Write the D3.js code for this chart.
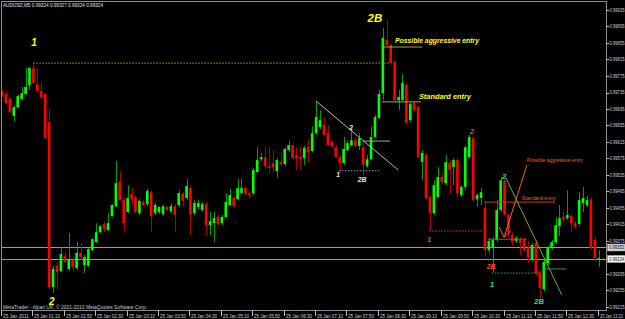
<!DOCTYPE html>
<html><head><meta charset="utf-8">
<script src="https://cdn.jsdelivr.net/npm/d3@7"></script>
<style>html,body{margin:0;padding:0;background:#000;overflow:hidden}svg{display:block}</style>
</head><body><svg id="c" width="625" height="319"></svg>
<script>
// ---------------- data ----------------
const symbolTitle = "AUDUSD,M5  0.99324 0.99327 0.99324 0.99324";
const copyright = "MetaTrader - Alpari UK, \u00a9 2001-2010 MetaQuotes Software Corp.";
const timeLabels = ["25 Jan 2011","25 Jan 01:10","25 Jan 01:50","25 Jan 02:30","25 Jan 03:10","25 Jan 03:50","25 Jan 04:30","25 Jan 05:10","25 Jan 05:50","25 Jan 06:30","25 Jan 07:10","25 Jan 07:50","25 Jan 08:30","25 Jan 09:10","25 Jan 09:50","25 Jan 10:30","25 Jan 11:10","25 Jan 11:50","25 Jan 12:30","25 Jan 13:10"];
const priceTicks = [0.99215,0.99255,0.99295,0.99335,0.99375,0.99415,0.99455,0.99495,0.99535,0.99575,0.99615,0.99655,0.99695,0.99735,0.99775,0.99815,0.99855,0.99895,0.99935];
const bidPrice = 0.99324, askPrice = 0.99352;

const opens = [0.99729,0.99724,0.99712,0.99671,0.99692,0.99712,0.99724,0.99746,0.99787,0.99748,
0.99731,0.99724,0.99656,0.99256,0.99307,0.99295,0.99331,0.99300,0.99322,0.99302,
0.99339,0.99309,0.99307,0.99346,0.99365,0.99389,0.99409,0.99394,0.99428,0.99452,
0.99511,0.99467,0.99438,0.99482,0.99474,0.99435,0.99462,0.99457,0.99486,0.99435,
0.99438,0.99433,0.99450,0.99440,0.99452,0.99455,0.99482,0.99472,0.99496,0.99435,
0.99450,0.99443,0.99457,0.99406,0.99411,0.99426,0.99411,0.99426,0.99455,0.99472,
0.99469,0.99484,0.99496,0.99484,0.99484,0.99535,0.99566,0.99571,0.99549,0.99557,
0.99537,0.99559,0.99554,0.99588,0.99600,0.99576,0.99571,0.99569,0.99595,0.99586,
0.99629,0.99644,0.99649,0.99629,0.99608,0.99595,0.99571,0.99557,0.99588,0.99600,
0.99612,0.99598,0.99595,0.99549,0.99566,0.99620,0.99666,0.99726,0.99855,0.99843,
0.99802,0.99709,0.99709,0.99746,0.99661,0.99702,0.99692,0.99559,0.99576,0.99474,
0.99435,0.99474,0.99523,0.99508,0.99557,0.99547,0.99564,0.99479,0.99499,0.99571,
0.99617,0.99469,0.99472,0.99448,0.99346,0.99351,0.99370,0.99443,0.99515,0.99431,
0.99382,0.99368,0.99372,0.99370,0.99351,0.99322,0.99363,0.99292,0.99251,0.99314,
0.99351,0.99365,0.99404,0.99426,0.99423,0.99428,0.99411,0.99409,0.99460,0.99455,
0.99469,0.99370,0.99322,0.99324];
const highs = [0.99734,0.99729,0.99717,0.99697,0.99722,0.99741,0.99787,0.99789,0.99799,0.99787,
0.99753,0.99726,0.99688,0.99307,0.99317,0.99353,0.99341,0.99387,0.99329,0.99365,
0.99363,0.99334,0.99351,0.99375,0.99411,0.99406,0.99414,0.99435,0.99457,0.99562,
0.99535,0.99472,0.99503,0.99496,0.99479,0.99469,0.99467,0.99494,0.99491,0.99460,
0.99452,0.99455,0.99452,0.99460,0.99457,0.99491,0.99486,0.99518,0.99501,0.99467,
0.99467,0.99462,0.99462,0.99438,0.99438,0.99431,0.99431,0.99484,0.99494,0.99477,
0.99518,0.99518,0.99501,0.99489,0.99545,0.99595,0.99581,0.99595,0.99595,0.99588,
0.99569,0.99581,0.99595,0.99612,0.99605,0.99595,0.99595,0.99598,0.99615,0.99646,
0.99707,0.99685,0.99668,0.99649,0.99612,0.99600,0.99576,0.99620,0.99612,0.99642,
0.99617,0.99629,0.99612,0.99576,0.99644,0.99673,0.99734,0.99884,0.99906,0.99845,
0.99806,0.99734,0.99772,0.99751,0.99705,0.99705,0.99695,0.99588,0.99581,0.99479,
0.99515,0.99547,0.99535,0.99576,0.99564,0.99569,0.99569,0.99503,0.99600,0.99625,
0.99625,0.99484,0.99496,0.99462,0.99375,0.99377,0.99467,0.99523,0.99525,0.99435,
0.99389,0.99380,0.99377,0.99375,0.99368,0.99363,0.99370,0.99297,0.99326,0.99356,
0.99370,0.99426,0.99455,0.99438,0.99491,0.99433,0.99416,0.99486,0.99499,0.99477,
0.99474,0.99377,0.99346,0.99327];
const lows = [0.99717,0.99700,0.99678,0.99656,0.99690,0.99709,0.99722,0.99734,0.99748,0.99729,
0.99714,0.99615,0.99251,0.99242,0.99249,0.99292,0.99314,0.99295,0.99297,0.99297,
0.99322,0.99290,0.99305,0.99343,0.99363,0.99387,0.99389,0.99392,0.99426,0.99450,
0.99465,0.99389,0.99435,0.99455,0.99433,0.99431,0.99450,0.99452,0.99389,0.99431,
0.99433,0.99428,0.99438,0.99435,0.99389,0.99450,0.99452,0.99467,0.99382,0.99431,
0.99445,0.99438,0.99382,0.99382,0.99365,0.99406,0.99406,0.99423,0.99452,0.99448,
0.99467,0.99482,0.99477,0.99472,0.99479,0.99532,0.99562,0.99540,0.99532,0.99535,
0.99520,0.99549,0.99549,0.99583,0.99564,0.99540,0.99540,0.99552,0.99557,0.99583,
0.99625,0.99639,0.99622,0.99598,0.99593,0.99569,0.99537,0.99552,0.99586,0.99598,
0.99593,0.99588,0.99528,0.99545,0.99564,0.99617,0.99663,0.99709,0.99838,0.99794,
0.99705,0.99685,0.99707,0.99651,0.99656,0.99680,0.99569,0.99515,0.99467,0.99392,
0.99431,0.99472,0.99506,0.99503,0.99484,0.99503,0.99474,0.99474,0.99491,0.99569,
0.99462,0.99450,0.99455,0.99329,0.99339,0.99292,0.99365,0.99438,0.99426,0.99375,
0.99358,0.99363,0.99334,0.99341,0.99314,0.99317,0.99285,0.99229,0.99246,0.99309,
0.99346,0.99360,0.99380,0.99414,0.99419,0.99389,0.99397,0.99404,0.99438,0.99450,
0.99346,0.99317,0.99305,0.99324];
const closes = [0.99719,0.99702,0.99680,0.99692,0.99719,0.99726,0.99741,0.99787,0.99751,0.99731,
0.99717,0.99617,0.99256,0.99300,0.99292,0.99336,0.99317,0.99324,0.99305,0.99339,
0.99329,0.99329,0.99348,0.99372,0.99389,0.99404,0.99397,0.99411,0.99455,0.99508,
0.99467,0.99411,0.99472,0.99469,0.99438,0.99465,0.99455,0.99489,0.99428,0.99455,
0.99450,0.99452,0.99443,0.99452,0.99431,0.99484,0.99465,0.99501,0.99431,0.99460,
0.99460,0.99457,0.99406,0.99416,0.99423,0.99409,0.99426,0.99462,0.99479,0.99452,
0.99496,0.99496,0.99482,0.99479,0.99540,0.99564,0.99571,0.99549,0.99545,0.99547,
0.99564,0.99554,0.99591,0.99600,0.99569,0.99569,0.99566,0.99593,0.99583,0.99629,
0.99668,0.99661,0.99625,0.99600,0.99598,0.99571,0.99557,0.99591,0.99605,0.99612,
0.99598,0.99617,0.99552,0.99566,0.99620,0.99668,0.99724,0.99860,0.99843,0.99799,
0.99709,0.99717,0.99751,0.99654,0.99700,0.99685,0.99571,0.99581,0.99472,0.99435,
0.99503,0.99523,0.99511,0.99559,0.99540,0.99564,0.99484,0.99499,0.99595,0.99620,
0.99467,0.99479,0.99486,0.99346,0.99368,0.99370,0.99443,0.99515,0.99431,0.99389,
0.99365,0.99375,0.99363,0.99346,0.99326,0.99358,0.99290,0.99254,0.99317,0.99351,
0.99365,0.99406,0.99423,0.99421,0.99431,0.99411,0.99402,0.99467,0.99472,0.99467,
0.99351,0.99326,0.99326,0.99324];

// hand-drawn chart objects, anchored at (bar index, price)
const textMarks = [
  {t:"1",  i:8.15,  p:0.99850, c:"#ffff00", s:10},
  {t:"2",  i:12.7,  p:0.99220, c:"#ffff00", s:10},
  {t:"2B", i:95.0,  p:0.99908, c:"#ffff00", s:11.5},
  {t:"2",  i:88.9,  p:0.99642, c:"#e6e6e6", s:6.8},
  {t:"1",  i:85.6,  p:0.99528, c:"#e6e6e6", s:6.8},
  {t:"2B", i:91.7,  p:0.99518, c:"#e6e6e6", s:6.8},
  {t:"2",  i:119.7, p:0.99632, c:"#ff4a1a", s:7},
  {t:"1",  i:108.8, p:0.99372, c:"#ff4a1a", s:7},
  {t:"2B", i:124.6, p:0.99307, c:"#ff4a1a", s:7},
  {t:"2",  i:127.9, p:0.99525, c:"#1fe08f", s:7.5},
  {t:"1",  i:124.8, p:0.99263, c:"#1fe08f", s:7.5},
  {t:"2B", i:136.8, p:0.99220, c:"#1fe08f", s:7.5}
];
const noteMarks = [
  {t:"Possible aggressive entry", i:100.1, p:0.99855, c:"#ffff00", bold:true, s:6.6, w:84},
  {t:"Standard entry",            i:106.2, p:0.99717, c:"#ffff00", bold:true, s:6.6, w:52},
  {t:"Possible aggressive entry", i:133.7, p:0.99564, c:"#ff5a1e", bold:false, s:5.4, w:56},
  {t:"Standard entry",            i:132.4, p:0.99472, c:"#ff5a1e", bold:false, s:5.4, w:34}
];
const lineMarks = [
  {i1:8,     p1:0.99799, i2:98.6,  p2:0.99799, c:"#b4a014", d:"1.5,1.5"},
  {i1:97.05, p1:0.99838, i2:106.98,p2:0.99838, c:"#a8a830"},
  {i1:96.8,  p1:0.99705, i2:106.7, p2:0.99705, c:"#a8a830"},
  {i1:80,    p1:0.99707, i2:100.9, p2:0.99540, c:"#b8b8b8"},
  {i1:91.95, p1:0.99610, i2:98.8,  p2:0.99610, c:"#a0a0a0"},
  {i1:85.8,  p1:0.99538, i2:96,    p2:0.99538, c:"#a0a0a0", d:"1.5,1.5"},
  {i1:133.7, p1:0.99552, i2:127.9, p2:0.99377, c:"#ff5a1e"},
  {i1:127.9, p1:0.99377, i2:126.6, p2:0.99402, c:"#ff5a1e"},
  {i1:127.9, p1:0.99377, i2:129.6, p2:0.99392, c:"#ff5a1e"},
  {i1:122.8, p1:0.99462, i2:140.9, p2:0.99462, c:"#b8461e"},
  {i1:108.8, p1:0.99392, i2:122.5, p2:0.99392, c:"#c84a1e", d:"1.5,1.5"},
  {i1:123.8, p1:0.99372, i2:133.7, p2:0.99372, c:"#b8461e"},
  {i1:128.4, p1:0.99520, i2:142.6, p2:0.99237, c:"#7aa61e"},
  {i1:124.8, p1:0.99290, i2:136.8, p2:0.99290, c:"#20b050", d:"1.5,1.5"},
  {i1:137.8, p1:0.99300, i2:143.7, p2:0.99300, c:"#20a040"}
];

// ---------------- drawing ----------------
const svg = d3.select("#c");
const n = opens.length;
const barStep = 3.926;
const plot = {l:1.5, r:606.5, t:1.5, b:310.5};
const x = d3.scaleLinear().domain([0, n-1]).range([2, 2 + barStep*(n-1)]);
const y = d3.scaleLinear().domain([0.99215, 0.99935]).range([304, 7]);
const FONT = "'Liberation Sans', Arial, sans-serif";

svg.append("rect").attr("width",625).attr("height",319).attr("fill","#000");
svg.append("clipPath").attr("id","pc").append("rect")
  .attr("x",plot.l+0.5).attr("y",plot.t+0.5).attr("width",plot.r-plot.l-1).attr("height",plot.b-plot.t-1);

const g = svg.append("g").attr("clip-path","url(#pc)");

// bid / ask lines
[askPrice, bidPrice].forEach(p => {
  const yy = Math.round(y(p)) + 0.5;
  g.append("line").attr("x1",plot.l).attr("x2",plot.r).attr("y1",yy).attr("y2",yy)
    .attr("stroke","#9a9a9a").attr("stroke-width",1);
});

// candles
const idx = d3.range(n);
const cg = g.append("g");
cg.selectAll("line.w").data(idx).join("line").attr("class","w")
  .attr("x1", i => Math.round(x(i)) + 0.5).attr("x2", i => Math.round(x(i)) + 0.5)
  .attr("y1", i => y(highs[i])).attr("y2", i => y(lows[i]))
  .attr("stroke", i => closes[i] >= opens[i] ? "#00a000" : "#b00000").attr("stroke-width",1);
cg.selectAll("rect.b").data(idx).join("rect").attr("class","b")
  .attr("x", i => x(i) - 1.3).attr("width", 2.6)
  .attr("y", i => Math.min(y(opens[i]), y(closes[i])))
  .attr("height", i => Math.max(1, Math.abs(y(opens[i]) - y(closes[i]))))
  .attr("fill", i => closes[i] >= opens[i] ? "#00ff00" : "#ff0000");

// drawn objects
g.selectAll("line.m").data(lineMarks).join("line").attr("class","m")
  .attr("x1", d => x(d.i1)).attr("y1", d => y(d.p1))
  .attr("x2", d => x(d.i2)).attr("y2", d => y(d.p2))
  .attr("stroke", d => d.c).attr("stroke-width",1)
  .attr("stroke-dasharray", d => d.d || null);

g.selectAll("text.lab").data(textMarks).join("text").attr("class","lab")
  .attr("x", d => x(d.i)).attr("y", d => y(d.p))
  .attr("text-anchor","middle").attr("dominant-baseline","central")
  .attr("font-family",FONT).attr("font-weight","bold").attr("font-style","italic")
  .attr("font-size", d => d.s).attr("fill", d => d.c).text(d => d.t);

g.selectAll("text.note").data(noteMarks).join("text").attr("class","note")
  .attr("x", d => x(d.i)).attr("y", d => y(d.p))
  .attr("dominant-baseline","central")
  .attr("font-family",FONT).attr("font-weight", d => d.bold ? "bold" : "normal")
  .attr("font-style", d => d.bold ? "italic" : "normal")
  .attr("font-size", d => d.s).attr("fill", d => d.c)
  .attr("textLength", d => d.w).attr("lengthAdjust","spacingAndGlyphs").text(d => d.t);

// frame
svg.append("rect").attr("x",plot.l).attr("y",plot.t).attr("width",plot.r-plot.l).attr("height",plot.b-plot.t)
  .attr("fill","none").attr("stroke","#8c8c8c").attr("stroke-width",1);

// title & copyright
svg.append("text").attr("x",3).attr("y",7).attr("font-family",FONT).attr("font-size",4.9)
  .attr("fill","#e0e0e0").attr("textLength",100).attr("lengthAdjust","spacingAndGlyphs").text(symbolTitle);
svg.append("text").attr("x",3).attr("y",309).attr("font-family",FONT).attr("font-size",4.7)
  .attr("fill","#c8c8c8").attr("textLength",144).attr("lengthAdjust","spacingAndGlyphs").text(copyright);

// price axis (right)
const pa = svg.append("g");
priceTicks.forEach(t => {
  const yy = y(t);
  pa.append("line").attr("x1",606.5).attr("x2",609).attr("y1",Math.round(yy+3)+0.5).attr("y2",Math.round(yy+3)+0.5)
    .attr("stroke","#bdbdbd").attr("stroke-width",1);
  pa.append("text").attr("x",609.5).attr("y",yy+3.2).attr("dominant-baseline","central")
    .attr("font-family",FONT).attr("font-size",4.8).attr("fill","#cfcfcf")
    .attr("textLength",15).attr("lengthAdjust","spacingAndGlyphs").text(t.toFixed(5));
});
[[askPrice,"#d6d6d6"],[bidPrice,"#ffffff"]].forEach(([p,bg]) => {
  const yy = y(p);
  pa.append("rect").attr("x",607.5).attr("y",yy-3.5).attr("width",17.5).attr("height",7)
    .attr("fill",bg).attr("stroke","#9a9a9a").attr("stroke-width",0.5);
  pa.append("text").attr("x",609).attr("y",yy+0.2).attr("dominant-baseline","central")
    .attr("font-family",FONT).attr("font-size",4.8).attr("fill","#000")
    .attr("textLength",15).attr("lengthAdjust","spacingAndGlyphs").text(p.toFixed(5));
});

// time axis (bottom)
const ta = svg.append("g");
timeLabels.forEach((lab,k) => {
  const xx = Math.round(x(k*8)) - 0.5;
  ta.append("line").attr("x1",xx).attr("x2",xx).attr("y1",310.5).attr("y2",316)
    .attr("stroke","#bdbdbd").attr("stroke-width",1);
  ta.append("text").attr("x",xx+1.5).attr("y",317.5)
    .attr("font-family",FONT).attr("font-size",4.6).attr("fill","#cfcfcf")
    .attr("textLength", Math.min(26, 623 - xx - 1.5)).attr("lengthAdjust","spacingAndGlyphs").text(lab);
});
</script>
</body></html>
